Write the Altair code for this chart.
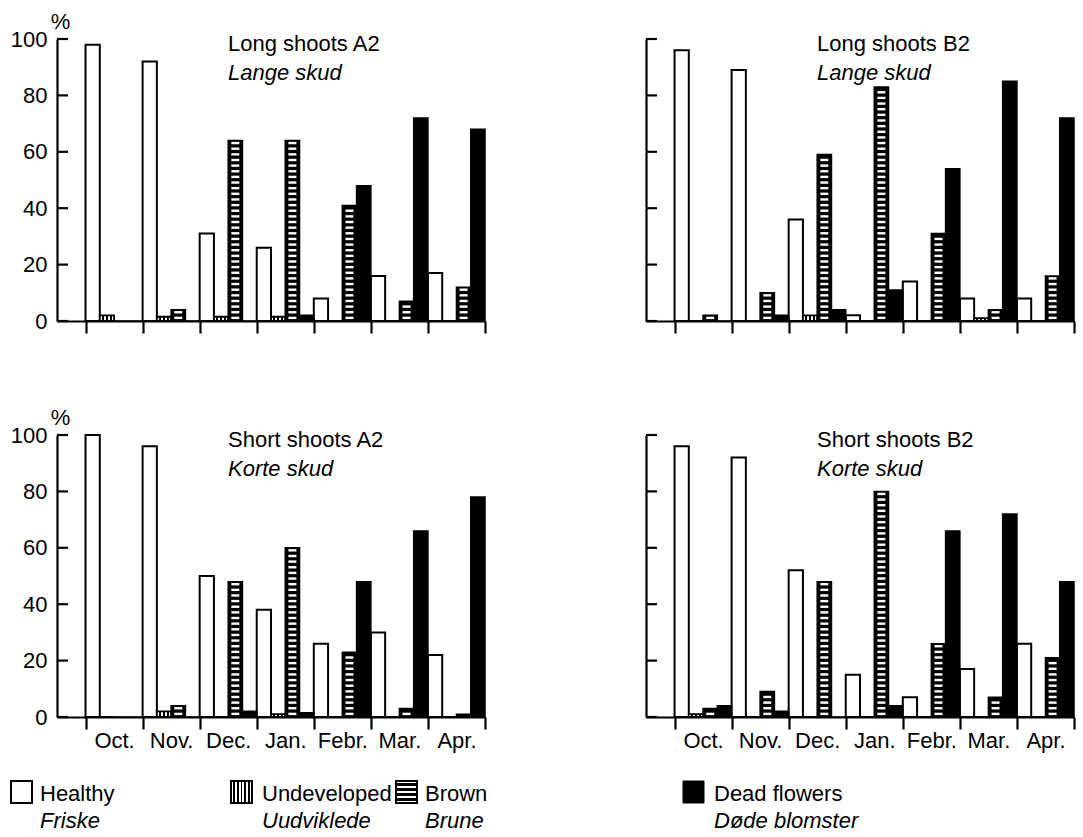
import altair as alt
import pandas as pd

# ---------------- data ----------------
months = ["Oct.", "Nov.", "Dec.", "Jan.", "Febr.", "Mar.", "Apr."]
categories = ["Healthy", "Undeveloped", "Brown", "Dead flowers"]
categories_da = ["Friske", "Uudviklede", "Brune", "Døde blomster"]
y_ticks = [0, 20, 40, 60, 80, 100]

panel_keys = ["LA2", "LB2", "SA2", "SB2"]
titles_en = ["Long shoots A2", "Long shoots B2", "Short shoots A2", "Short shoots B2"]
titles_da = ["Lange skud", "Lange skud", "Korte skud", "Korte skud"]

# Long shoots A2
la2_healthy = [98, 92, 31, 26, 8, 16, 17]
la2_undeveloped = [2, 1.5, 1.5, 1.5, 0, 0, 0]
la2_brown = [0, 4, 64, 64, 41, 7, 12]
la2_dead = [0, 0, 0, 2, 48, 72, 68]

# Long shoots B2
lb2_healthy = [96, 89, 36, 2, 14, 8, 8]
lb2_undeveloped = [0, 0, 2, 0, 0, 1, 0]
lb2_brown = [2, 10, 59, 83, 31, 4, 16]
lb2_dead = [0, 2, 4, 11, 54, 85, 72]

# Short shoots A2
sa2_healthy = [100, 96, 50, 38, 26, 30, 22]
sa2_undeveloped = [0, 2, 0, 1, 0, 0, 0]
sa2_brown = [0, 4, 48, 60, 23, 3, 1]
sa2_dead = [0, 0, 2, 1.5, 48, 66, 78]

# Short shoots B2
sb2_healthy = [96, 92, 52, 15, 7, 17, 26]
sb2_undeveloped = [1, 0, 0, 0, 0, 0, 0]
sb2_brown = [3, 9, 48, 80, 26, 7, 21]
sb2_dead = [4, 2, 0, 4, 66, 72, 48]

series = {
    "LA2": [la2_healthy, la2_undeveloped, la2_brown, la2_dead],
    "LB2": [lb2_healthy, lb2_undeveloped, lb2_brown, lb2_dead],
    "SA2": [sa2_healthy, sa2_undeveloped, sa2_brown, sa2_dead],
    "SB2": [sb2_healthy, sb2_undeveloped, sb2_brown, sb2_dead],
}

rows = []
for key, lists in series.items():
    for cat, vals in zip(categories, lists):
        for m, v in zip(months, vals):
            rows.append({"panel": key, "month": m, "category": cat, "value": v})
df = pd.DataFrame(rows)

# ---------------- style ----------------
FONT = "Liberation Sans"
BLACK = "#000000"
FS = 22
LW = 2.2
PW, PH = 428, 282


def stripes(n, horizontal):
    stops = [alt.GradientStop(color="white", offset=0)]
    k = 2 * n + 1
    for i in range(n):
        a = (2 * i + 1) / k
        b = (2 * i + 2) / k
        stops += [
            alt.GradientStop(color="white", offset=a),
            alt.GradientStop(color=BLACK, offset=a),
            alt.GradientStop(color=BLACK, offset=b),
            alt.GradientStop(color="white", offset=b),
        ]
    stops.append(alt.GradientStop(color="white", offset=1))
    if horizontal:
        return alt.LinearGradient(gradient="linear", stops=stops, x1=0, x2=1, y1=0, y2=0)
    return alt.LinearGradient(gradient="linear", stops=stops, x1=0, x2=0, y1=0, y2=1)


UND_FILL = stripes(3, True)


def legend_layers():
    """Custom two-line legend, drawn below the lower-left panel."""
    leg_df = pd.DataFrame({"category": categories, "en": categories, "da": categories_da})
    icon_x = {"Healthy": -46, "Undeveloped": 174, "Brown": 339, "Dead flowers": 626}
    text_x = {"Healthy": -17, "Undeveloped": 205, "Brown": 368, "Dead flowers": 657}
    icon_style = {
        "Healthy": dict(fill="white", stroke=BLACK, strokeWidth=2),
        "Undeveloped": dict(fill=stripes(5, True), stroke=BLACK, strokeWidth=2),
        "Brown": dict(fill=stripes(4, False), stroke=BLACK, strokeWidth=2),
        "Dead flowers": dict(fill=BLACK, stroke=BLACK, strokeWidth=1),
    }
    top = PH + 64
    out = []
    for cat in categories:
        b = alt.Chart(leg_df).transform_filter(alt.datum.category == cat)
        ix = icon_x[cat]
        out.append(
            b.mark_rect(**icon_style[cat]).encode(
                x=alt.value(ix), x2=alt.value(ix + 21),
                y=alt.value(top), y2=alt.value(top + 22),
            )
        )
        out.append(
            b.mark_text(align="left", baseline="alphabetic", fontSize=FS, font=FONT,
                        color=BLACK).encode(
                x=alt.value(text_x[cat]), y=alt.value(top + 20), text="en:N")
        )
        out.append(
            b.mark_text(align="left", baseline="alphabetic", fontSize=FS, font=FONT,
                        color=BLACK, fontStyle="italic").encode(
                x=alt.value(text_x[cat]), y=alt.value(top + 47), text="da:N")
        )
    return out


def make_panel(idx, left, bottom, with_legend=False):
    key = panel_keys[idx]
    sub = df[df.panel == key]

    xaxis = alt.Axis(
        labels=bottom, ticks=True, tickBand="extent", tickSize=12, tickWidth=LW,
        tickColor=BLACK, domainWidth=LW, domainColor=BLACK, labelFontSize=FS,
        labelFont=FONT, labelColor=BLACK, labelPadding=1, labelAngle=0, grid=False,
    )
    xenc = alt.X(
        "month:N", sort=months, title=None,
        scale=alt.Scale(domain=months, paddingInner=0, paddingOuter=0.25, align=1),
        axis=xaxis,
    )
    xoff = alt.XOffset(
        "category:N", sort=categories,
        scale=alt.Scale(domain=categories, paddingInner=0, paddingOuter=0),
    )
    ykw = dict(
        values=y_ticks, labels=left, ticks=False, tickSize=0, labelPadding=10,
        labelFontSize=FS, labelFont=FONT, labelColor=BLACK, domainWidth=LW,
        domainColor=BLACK, grid=False,
    )
    if left:
        ykw.update(titleAngle=0, titleAlign="center", titleBaseline="alphabetic",
                   titleX=3, titleY=-11, titleFontSize=FS, titleFont=FONT,
                   titleFontWeight="normal", titleColor=BLACK)
    yaxis = alt.Axis(**ykw)
    yscale = alt.Scale(domain=[0, 100], nice=False)
    ytitle = "%" if left else None

    def yenc(field):
        return alt.Y(f"{field}:Q", scale=yscale, axis=yaxis, title=ytitle)

    base = alt.Chart(sub)
    healthy = base.transform_filter(alt.datum.category == "Healthy").mark_bar(
        fill="white", stroke=BLACK, strokeWidth=2
    ).encode(x=xenc, xOffset=xoff, y=yenc("value"))
    und = base.transform_filter(alt.datum.category == "Undeveloped").mark_bar(
        fill=UND_FILL, stroke=BLACK, strokeWidth=1.8
    ).encode(x=xenc, xOffset=xoff, y=yenc("value"))
    brown = base.transform_filter(alt.datum.category == "Brown").mark_bar(
        fill=BLACK, stroke=BLACK, strokeWidth=1.5
    ).encode(x=xenc, xOffset=xoff, y=yenc("value"))
    brown_lines = (
        base.transform_filter(alt.datum.category == "Brown")
        .transform_calculate(level="sequence(1.1, datum.value - 0.6, 2)")
        .transform_flatten(["level"])
        .mark_tick(color="white", thickness=2.4, size=8, opacity=1)
        .encode(x=xenc, xOffset=xoff, y=yenc("level"))
    )
    dead = base.transform_filter(alt.datum.category == "Dead flowers").mark_bar(
        fill=BLACK, stroke=BLACK, strokeWidth=1.5
    ).encode(x=xenc, xOffset=xoff, y=yenc("value"))

    ytick_rules = alt.Chart(pd.DataFrame({"value": y_ticks})).mark_rule(
        color=BLACK, strokeWidth=LW
    ).encode(y=yenc("value"), x=alt.value(0), x2=alt.value(11))

    tdf = pd.DataFrame({"en": [titles_en[idx]], "da": [titles_da[idx]]})
    t1 = alt.Chart(tdf).mark_text(
        align="left", baseline="alphabetic", fontSize=FS, font=FONT, color=BLACK
    ).encode(x=alt.value(171), y=alt.value(12), text="en:N")
    t2 = alt.Chart(tdf).mark_text(
        align="left", baseline="alphabetic", fontSize=FS, font=FONT, color=BLACK,
        fontStyle="italic",
    ).encode(x=alt.value(171), y=alt.value(41), text="da:N")

    layers = [healthy, und, brown, brown_lines, dead, ytick_rules, t1, t2]
    if with_legend:
        layers += legend_layers()
    return alt.layer(*layers).properties(width=PW, height=PH)


p11 = make_panel(0, True, False)
p12 = make_panel(1, False, False)
p21 = make_panel(2, True, True, with_legend=True)
p22 = make_panel(3, False, True)

chart = (
    alt.concat(p11, p12, p21, p22, columns=2, spacing={"row": 114, "column": 161},
               bounds="flush")
    .properties(padding={"left": 10, "top": 10, "right": 5, "bottom": 0}, background="white")
    .configure_view(strokeWidth=0)
)

chart.save("out.html", embed_options={"renderer": "svg", "actions": False})
